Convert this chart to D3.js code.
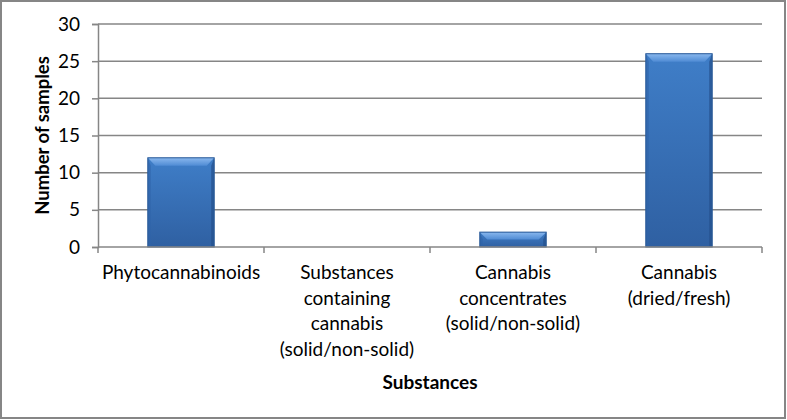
<!DOCTYPE html>
<html><head><meta charset="utf-8">
<script src="https://cdn.jsdelivr.net/npm/d3@7"></script>
<style>body{margin:0;background:#fff}svg{display:block}</style>
</head><body>
<script>
const categories = [
  ["Phytocannabinoids"],
  ["Substances", "containing", "cannabis", "(solid/non-solid)"],
  ["Cannabis", "concentrates", "(solid/non-solid)"],
  ["Cannabis", "(dried/fresh)"]
];
const values = [12, 0, 2, 26];
const yTicks = [0, 5, 10, 15, 20, 25, 30];
const yTitle = "Number of samples";
const xTitle = "Substances";

const W = 787, H = 420;
const m = {left: 98, right: 25, top: 24, bottom: 173};
const svg = d3.select("body").append("svg").attr("width", W).attr("height", H);
const FONT = "Lato, 'Open Sans', sans-serif";
const GRID = "#868686";
const FS = 19;

svg.append("rect").attr("x", 1).attr("y", 1).attr("width", W - 3).attr("height", H - 3)
  .attr("fill", "#fff").attr("stroke", "#868686").attr("stroke-width", 2);

const defs = svg.append("defs");
const g1 = defs.append("linearGradient").attr("id", "barg").attr("x1", 0).attr("x2", 0).attr("y1", 0).attr("y2", 1);
g1.append("stop").attr("offset", 0).attr("stop-color", "#3f7ec8");
g1.append("stop").attr("offset", 1).attr("stop-color", "#2f60a2");
const g2 = defs.append("linearGradient").attr("id", "bevt").attr("x1", 0).attr("x2", 0).attr("y1", 0).attr("y2", 1);
g2.append("stop").attr("offset", 0).attr("stop-color", "#8ab8ee");
g2.append("stop").attr("offset", 1).attr("stop-color", "#4f8bd4");

const idx = d3.range(values.length);
const x = d3.scaleBand().domain(idx).range([m.left, W - m.right]).paddingInner(0.6).paddingOuter(0.3);
const xOuter = d3.scaleBand().domain(idx).range([m.left, W - m.right]);
const y = d3.scaleLinear().domain([0, 30]).range([H - m.bottom, m.top]);

// gridlines
svg.append("g").selectAll("line").data(yTicks.slice(1)).join("line")
  .attr("x1", m.left).attr("x2", W - m.right)
  .attr("y1", d => y(d)).attr("y2", d => y(d))
  .attr("stroke", GRID).attr("stroke-width", 1.5);

// y axis
const ya = svg.append("g").attr("transform", `translate(${m.left},0)`)
  .call(d3.axisLeft(y).tickValues(yTicks).tickSize(6).tickPadding(12));
ya.select(".domain").attr("stroke", GRID).attr("stroke-width", 1.5);
ya.selectAll(".tick line").attr("stroke", GRID).attr("stroke-width", 1.5);
ya.selectAll(".tick text").attr("font-family", FONT).attr("font-size", FS).attr("fill", "#000");

// bars
const bars = svg.append("g").selectAll("g").data(idx.filter(i => values[i] > 0)).join("g");
const bev = 8, side = 3;
bars.append("rect")
  .attr("x", i => x(i)).attr("y", i => y(values[i]))
  .attr("width", x.bandwidth()).attr("height", i => y(0) - y(values[i]))
  .attr("fill", "url(#barg)");
bars.append("path").attr("fill", "#2f63a8").attr("opacity", 0.6)
  .attr("d", i => {
    const x0 = x(i), y0 = y(values[i]), y1 = y(0), b = Math.min(bev, (y1 - y0) / 2);
    return `M${x0},${y0}L${x0 + side},${y0 + b}L${x0 + side},${y1 - 1}L${x0},${y1}Z`;
  });
bars.append("path").attr("fill", "#23508c").attr("opacity", 0.7)
  .attr("d", i => {
    const x1 = x(i) + x.bandwidth(), y0 = y(values[i]), y1 = y(0), b = Math.min(bev, (y1 - y0) / 2);
    return `M${x1},${y0}L${x1 - side},${y0 + b}L${x1 - side},${y1 - 1}L${x1},${y1}Z`;
  });
bars.append("path").attr("fill", "url(#bevt)")
  .attr("d", i => {
    const x0 = x(i), x1 = x0 + x.bandwidth(), y0 = y(values[i]), y1 = y(0), b = Math.min(bev, (y1 - y0) / 2);
    return `M${x0},${y0}L${x1},${y0}L${x1 - side * 2.5},${y0 + b}L${x0 + side * 2.5},${y0 + b}Z`;
  });
bars.append("rect")
  .attr("x", i => x(i)).attr("y", i => y(values[i]))
  .attr("width", x.bandwidth()).attr("height", i => y(0) - y(values[i]))
  .attr("fill", "none").attr("stroke", "#2a5a98").attr("stroke-width", 1);

// x axis
const xa = svg.append("g").attr("transform", `translate(0,${y(0)})`);
xa.append("line").attr("x1", m.left).attr("x2", W - m.right).attr("stroke", GRID).attr("stroke-width", 1.5);
const bounds = idx.map(i => xOuter(i)).concat([W - m.right]);
xa.selectAll("line.t").data(bounds).join("line").attr("class", "t")
  .attr("x1", d => d).attr("x2", d => d).attr("y1", 0).attr("y2", 6)
  .attr("stroke", GRID).attr("stroke-width", 1.5);
const lab = xa.selectAll("text").data(idx).join("text")
  .attr("text-anchor", "middle").attr("font-family", FONT).attr("font-size", FS).attr("fill", "#000");
lab.selectAll("tspan").data(i => categories[i].map(t => ({t, i}))).join("tspan")
  .attr("x", d => xOuter(d.i) + xOuter.bandwidth() / 2)
  .attr("y", (d, j) => 32 + j * 25.7)
  .text(d => d.t);

// titles
svg.append("text").attr("x", xOuter(1) + xOuter.bandwidth()).attr("y", 389)
  .attr("text-anchor", "middle").attr("font-family", FONT).attr("font-weight", "bold")
  .attr("font-size", FS).text(xTitle);
svg.append("text").attr("transform", `translate(49,${(y(0) + y(30)) / 2}) rotate(-90)`)
  .attr("text-anchor", "middle").attr("font-family", FONT).attr("font-weight", "bold")
  .attr("font-size", 18.5).text(yTitle);
</script>
</body></html>
